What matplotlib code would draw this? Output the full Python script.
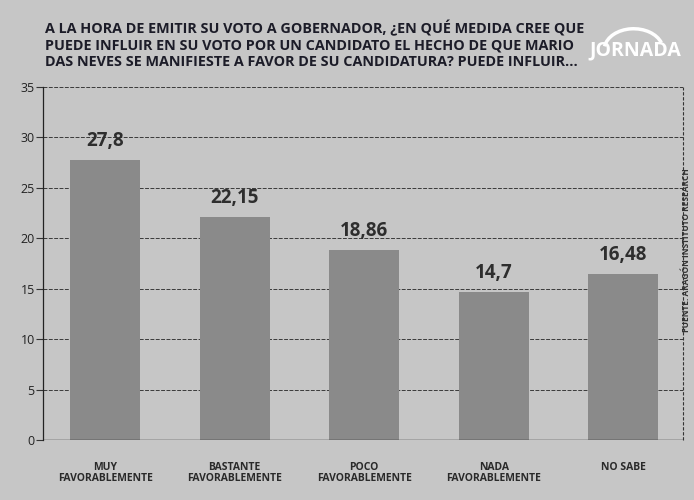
import matplotlib.pyplot as plt
from matplotlib.patches import Arc

categorias = ['MUY\nFAVORABLEMENTE', 'BASTANTE\nFAVORABLEMENTE', 'POCO\nFAVORABLEMENTE',
              'NADA\nFAVORABLEMENTE', 'NO SABE']
valores = [27.8, 22.15, 18.86, 14.7, 16.48]
etiquetas = ['27,8', '22,15', '18,86', '14,7', '16,48']
yticks = [0, 5, 10, 15, 20, 25, 30, 35]

titulo = ('A LA HORA DE EMITIR SU VOTO A GOBERNADOR, ¿EN QUÉ MEDIDA CREE QUE\n'
          'PUEDE INFLUIR EN SU VOTO POR UN CANDIDATO EL HECHO DE QUE MARIO\n'
          'DAS NEVES SE MANIFIESTE A FAVOR DE SU CANDIDATURA? PUEDE INFLUIR...')

plt.rcParams['font.family'] = ['Open Sans', 'DejaVu Sans']

fondo = '#c6c6c6'
fig = plt.figure(figsize=(6.94, 5), dpi=100, facecolor=fondo)
ax = fig.add_axes([0.062, 0.12, 0.922, 0.706], facecolor=fondo)

x = list(range(len(valores)))
ax.bar(x, valores, width=0.54, color='#8a8a8a', zorder=2)
for xi, v, t in zip(x, valores, etiquetas):
    ax.text(xi, v + 0.9, t, ha='center', va='bottom', fontsize=13.5,
            fontweight='bold', color='#2e2e2e')

ax.set_xlim(-0.48, 4.46)
ax.set_ylim(0, 35)
ax.set_yticks(yticks)
ax.set_yticklabels([str(t) for t in yticks], fontsize=9, color='#222222')
for t in yticks[1:]:
    ax.axhline(t, color='#3a3a3a', lw=0.7, ls=(0, (4, 1.5)), zorder=1)
ax.axhline(0, color='#222222', lw=1, zorder=3)
ax.tick_params(axis='y', length=5, width=0.8, color='#333333', pad=1)
ax.set_xticks(x)
ax.set_xticklabels(categorias, fontsize=7.5, fontweight='bold', color='#2a2a2a',
                   linespacing=1.0)
ax.tick_params(axis='x', length=0, pad=16)
for s in ['top', 'right', 'bottom']:
    ax.spines[s].set_visible(False)
ax.spines['left'].set_color('#222222')
ax.spines['left'].set_linewidth(0.9)
ax.plot([4.46, 4.46], [0, 35], color='#333333', lw=0.8, ls=(0, (3, 1.5)),
        clip_on=False)

fig.text(0.065, 0.96, titulo, ha='left', va='top', fontsize=10.4,
         fontweight='bold', color='#1c1c28', linespacing=1.2)

fig.text(0.915, 0.9, 'JORNADA', ha='center', va='center', fontsize=14,
         fontweight='bold', color='white')
fig.patches.append(Arc((0.913, 0.9), 0.085, 0.085, theta1=20, theta2=170,
                       transform=fig.transFigure, color='white', lw=2.5))

fig.text(0.996, 0.5, 'FUENTE: ARAGÓN INSTITUTO RESEARCH', rotation=90,
         ha='right', va='center', fontsize=6, fontweight='bold', color='#333333')

fig.savefig('out.png', dpi=100, facecolor=fondo)
